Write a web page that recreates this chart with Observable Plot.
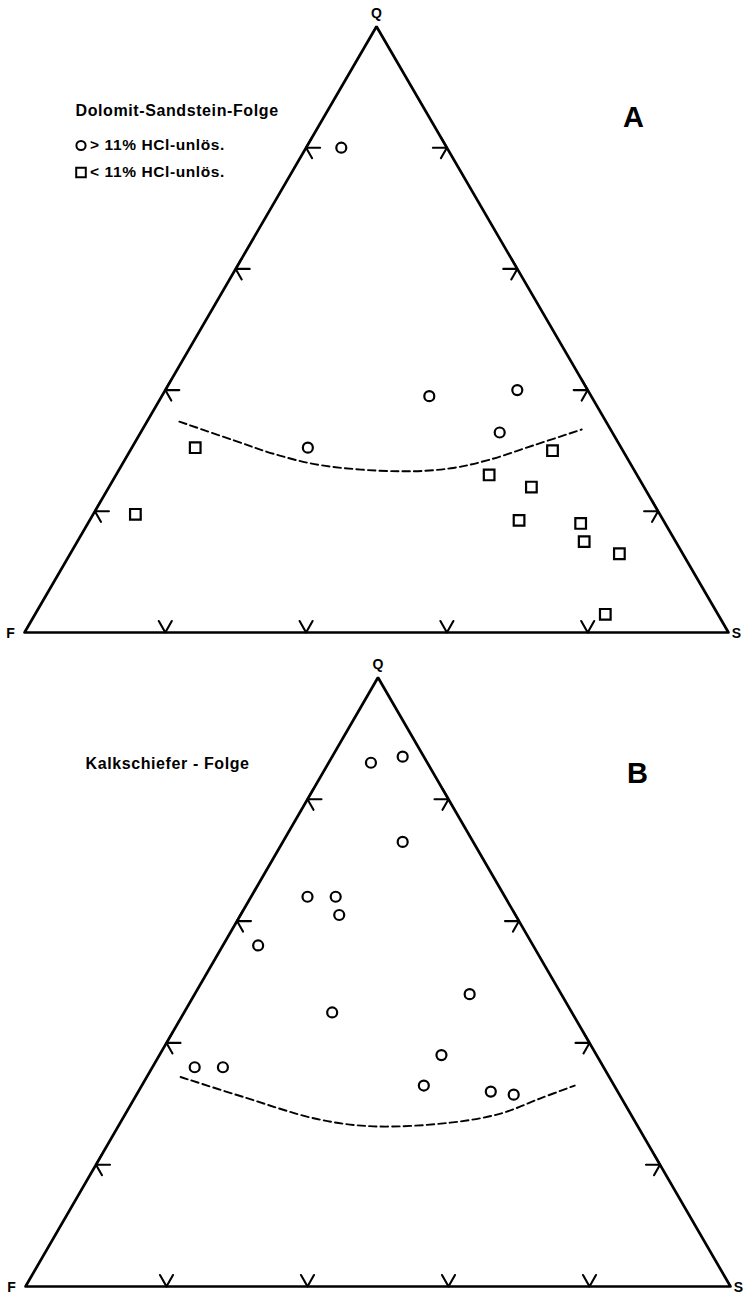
<!DOCTYPE html>
<html><head><meta charset="utf-8">
<script src="https://cdn.jsdelivr.net/npm/d3@7"></script>
<script src="https://cdn.jsdelivr.net/npm/@observablehq/plot@0.6"></script>
<style>
html,body{margin:0;padding:0;background:#fff}
#chart svg{display:block}
</style>
</head><body><div id="chart"></div>
<script>
// Ternary data, each entry [Q, F, S] in percent
const tickFractions = [0.2, 0.4, 0.6, 0.8];

const circlesA = [[80, 15, 5], [39, 23, 38], [40, 10, 50], [33, 16, 51], [30.5, 44.5, 25]];
const squaresA = [[30.5, 60.5, 9], [19.5, 74.5, 6], [30, 10, 60], [26, 21, 53], [24, 16, 60],
  [18.5, 20.5, 61], [18, 12, 70], [15, 13, 72], [13, 9, 78], [3, 16, 81]];
const boundaryA = [[34.8, 60.6, 4.6], [31.7, 54.4, 13.9], [29.5, 49.9, 20.6], [27.6, 44.1, 28.3],
  [26.6, 33.3, 40.1], [27.1, 25.9, 47.0], [28.4, 20.1, 51.5], [30.9, 12.2, 56.9], [33.5, 4.1, 62.4]];

const circlesB = [[86, 8, 6], [87, 3, 10], [73, 10, 17], [64, 28, 8], [64, 24, 12], [61, 25, 14],
  [56, 39, 5], [45, 34, 21], [36, 58, 6], [36, 54, 10], [38, 22, 40], [33, 27, 40], [48, 13, 39],
  [32, 18, 50], [31.5, 15, 53.5]];
const boundaryB = [[34.4, 60.8, 4.8], [31.1, 53.5, 15.4], [27.5, 44.9, 27.6], [26.3, 37.5, 36.2],
  [26.9, 26.3, 46.8], [28.4, 18.4, 53.2], [30.9, 11.5, 57.6], [33.0, 5.6, 61.4]];

const titleA = "Dolomit-Sandstein-Folge";
const legendA = ["> 11% HCl-unlös.", "< 11% HCl-unlös."];
const titleB = "Kalkschiefer - Folge";

// projection from ternary [Q,F,S] (%) to plane
const px = d => (d[2] + d[0] / 2) / 100;
const py = d => d[0] / 100;

const corners = [[0, 100, 0, "F"], [0, 0, 100, "S"], [100, 0, 0, "Q"]];
const outline = [corners[0], corners[1], corners[2], corners[0], corners[1]];

// tick shapes (custom vector shapes, drawn in pixels around the anchor)
const leftTick = {draw(c, l) { c.moveTo(l, 0); c.lineTo(0, 0); c.lineTo(6, 10.5); c.moveTo(0, 0); c.lineTo(6, -10.5); }};
const rightTick = {draw(c, l) { c.moveTo(-l, 0); c.lineTo(0, 0); c.lineTo(-6, 10.5); c.moveTo(0, 0); c.lineTo(-6, -10.5); }};
const bottomTick = {draw(c) { c.moveTo(-6.5, -11.5); c.lineTo(0, 0); c.lineTo(6.5, -11.5); }};

const FONT = "'Liberation Sans', Arial, Helvetica, sans-serif";
const lab = {textAnchor: "start", lineAnchor: "middle", fontWeight: "bold"};

function panel({circles, squares, boundary, title, legend, letter, m, titlePos, letterPos, legendPos}) {
  const marks = [
    Plot.line(outline, {x: px, y: py, stroke: "black", strokeWidth: 2.7, strokeLinejoin: "miter"}),
    Plot.vector(tickFractions, {x: t => t / 2, y: t => t, length: 14, anchor: "start", shape: leftTick, stroke: "black", strokeWidth: 2.1}),
    Plot.vector(tickFractions, {x: t => 1 - t / 2, y: t => t, length: 14, anchor: "start", shape: rightTick, stroke: "black", strokeWidth: 2.1}),
    Plot.vector(tickFractions, {x: t => t, y: 0, length: 12, anchor: "start", shape: bottomTick, stroke: "black", strokeWidth: 2.1}),
    Plot.line(boundary, {x: px, y: py, curve: "catmull-rom", stroke: "black", strokeWidth: 1.9, strokeDasharray: "7.5,4"}),
    Plot.dot(circles, {x: px, y: py, r: 5, stroke: "black", strokeWidth: 2.2, fill: "white"}),
    Plot.text(corners.filter(d => d[3] === "Q"), {x: px, y: py, text: d => d[3], dy: -13, fontSize: 14, fontWeight: "bold"}),
    Plot.text(corners.filter(d => d[3] === "F"), {x: px, y: py, text: d => d[3], dx: -14, dy: 1, fontSize: 14, fontWeight: "bold"}),
    Plot.text(corners.filter(d => d[3] === "S"), {x: px, y: py, text: d => d[3], dx: 8, dy: 1, fontSize: 14, fontWeight: "bold"}),
    Plot.text([title], {...lab, frameAnchor: "top-left", dx: titlePos[0], dy: titlePos[1], fontSize: 16}),
    Plot.text([letter], {...lab, textAnchor: "middle", frameAnchor: "top-left", dx: letterPos[0], dy: letterPos[1], fontSize: 29})
  ];
  if (squares) {
    marks.splice(5, 0, Plot.dot(squares, {x: px, y: py, symbol: "square", r: 6, stroke: "black", strokeWidth: 2.2, fill: "white"}));
  }
  if (legend) {
    marks.push(
      Plot.dot([0], {frameAnchor: "top-left", dx: legendPos[0], dy: legendPos[1], r: 4.6, stroke: "black", strokeWidth: 2}),
      Plot.dot([0], {frameAnchor: "top-left", dx: legendPos[0], dy: legendPos[1] + 27, symbol: "square", r: 5.4, stroke: "black", strokeWidth: 2}),
      Plot.text([legend[0]], {...lab, frameAnchor: "top-left", dx: legendPos[0] + 9, dy: legendPos[1], fontSize: 15.5}),
      Plot.text([legend[1]], {...lab, frameAnchor: "top-left", dx: legendPos[0] + 9, dy: legendPos[1] + 27, fontSize: 15.5})
    );
  }
  return Plot.plot({
    width: 745, height: 647,
    marginLeft: m[0], marginRight: m[1], marginTop: m[2], marginBottom: m[3],
    x: {domain: [0, 1], axis: null},
    y: {domain: [0, 1], axis: null},
    style: {fontFamily: FONT, background: "white", color: "black"},
    marks
  });
}

const mA = [24, 17, 26, 15];
const mB = [25, 15, 30, 8];

const svgA = panel({circles: circlesA, squares: squaresA, boundary: boundaryA, title: titleA, legend: legendA,
  letter: "A", m: mA, titlePos: [75 - 24, 110 - 26], letterPos: [633 - 24, 117 - 26], legendPos: [80.5 - 24, 145 - 26]});
const svgB = panel({circles: circlesB, squares: null, boundary: boundaryB, title: titleB, legend: null,
  letter: "B", m: mB, titlePos: [85 - 25, 763 - 647 - 30], letterPos: [637 - 25, 773 - 647 - 30], legendPos: null});

for (const s of [svgA, svgB]) {
  d3.select(s).selectAll("text").filter(function() { return this.textContent.length > 3; })
    .style("letter-spacing", "0.6px");
}
document.getElementById("chart").append(svgA, svgB);
</script>
</body></html>
